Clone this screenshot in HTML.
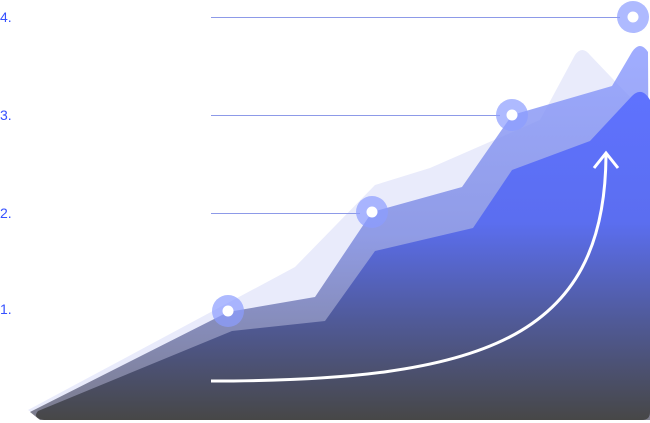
<!DOCTYPE html>
<html><head><meta charset="utf-8"><style>
html,body{margin:0;padding:0;background:#fff;width:650px;height:423px;overflow:hidden}
svg{display:block}
text{font-family:"Liberation Sans",sans-serif;font-size:14px;fill:#3550ff}
</style></head><body>
<svg width="650" height="423" viewBox="0 0 650 423">
<defs>
<linearGradient id="g1" gradientUnits="userSpaceOnUse" x1="0" y1="90" x2="0" y2="420">
<stop offset="0" stop-color="#5f72ff"/><stop offset="0.4" stop-color="#5b6ef0"/><stop offset="0.7" stop-color="#505a98"/><stop offset="1" stop-color="#474747"/>
</linearGradient>
<linearGradient id="g2" gradientUnits="userSpaceOnUse" x1="0" y1="50" x2="0" y2="420">
<stop offset="0" stop-color="#8898ff"/><stop offset="0.5" stop-color="#7a88e0"/><stop offset="1" stop-color="#606070"/>
</linearGradient>
</defs>
<path d="M28,410 L295,267 L375,185 L430,168 L540,120 L575,55 Q582,45 590,55 L650,118 L650,418 L40,418 Z" fill="#e9ebfb"/>
<path d="M30,412 L228,312 L315,297 L372,212 L462,187 L512,115 L612,86 L632,52 Q640,40 648,52 L650,420 L40,420 Z" fill="url(#g2)" fill-opacity="0.8"/>
<path d="M38,411 L232,331 L325,321 L375,251 L473,228 L512,170 L590,141 L632,96 Q642,86 650,100 L650,412 Q650,420 642,420 L44,420 Q32,418 38,411 Z" fill="url(#g1)"/>
<g stroke="#8d9ae8" stroke-width="1">
<line x1="211" y1="17.5" x2="620" y2="17.5"/>
<line x1="211" y1="115.5" x2="500" y2="115.5"/>
<line x1="211" y1="213.5" x2="360" y2="213.5"/>
</g>
<g fill="#8c9dff" fill-opacity="0.7">
<circle cx="228" cy="311" r="16"/><circle cx="372" cy="212" r="16"/><circle cx="512" cy="115" r="16"/><circle cx="633" cy="17" r="16"/>
</g>
<g fill="#fff"><circle cx="228" cy="311" r="5.5"/><circle cx="372" cy="212" r="5.5"/><circle cx="512" cy="115" r="5.5"/><circle cx="633" cy="17" r="5.5"/></g>
<path d="M211,381 C480,381 605,340 606,155" fill="none" stroke="#fff" stroke-width="3"/>
<path d="M594,168 L606,153 L618,168" fill="none" stroke="#fff" stroke-width="3"/>
<text x="0" y="22">4.</text>
<text x="0" y="120">3.</text>
<text x="0" y="218">2.</text>
<text x="0" y="314">1.</text>
</svg>
</body></html>
